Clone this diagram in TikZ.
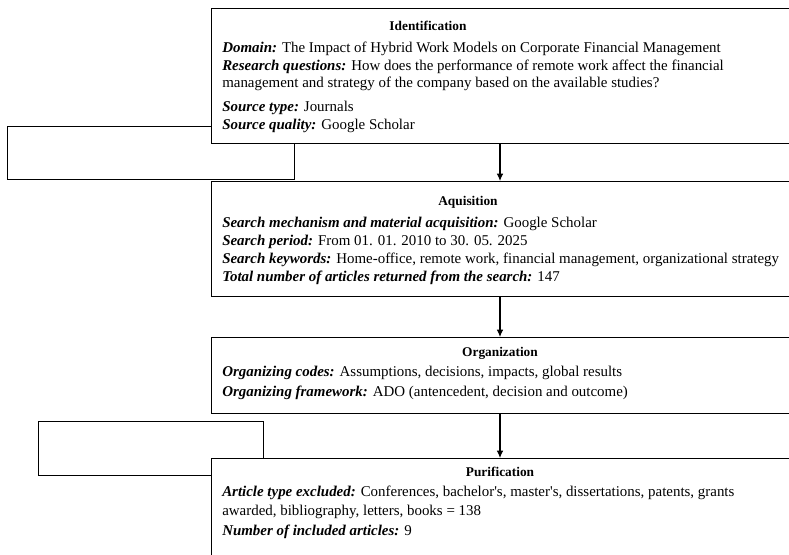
\documentclass[tikz,border=0pt]{standalone}
\usepackage{fontspec}
\setmainfont{Liberation Serif}
\usetikzlibrary{arrows.meta}
\tikzset{
  stagebox/.style={draw, line width=0.8pt, fill=white, inner sep=0pt, anchor=north west},
  sidebox/.style={draw, line width=0.8pt, inner sep=0pt, anchor=north west},
  heading/.style={font=\bfseries, anchor=base, inner sep=0pt},
  entry/.style={anchor=base west, inner sep=0pt},
  flow/.style={-{Latex[length=5.5pt,width=5pt]}, line width=0.8pt},
}
\newcommand{\lbl}[1]{\textbf{\textit{#1}}}
\begin{document}
\begin{tikzpicture}[x=0.75pt, y=-0.75pt, font=\fontsize{11.2}{13.4}\selectfont]
                \useasboundingbox (0,0) rectangle (789,555);
                \clip (0,0) rectangle (789,555);
                % side boxes (behind the stages)
                \node [sidebox, minimum width=215.25pt, minimum height=39.75pt] (sideA) at (7,126) {};
                \node [sidebox, minimum width=168.75pt, minimum height=40.5pt] (sideB) at (38,421) {};
                % stages
                \node [stagebox, minimum width=438pt, minimum height=101.25pt] (ident) at (211,8) {};
                \node [stagebox, minimum width=438pt, minimum height=86.25pt] (aquis) at (211,181) {};
                \node [stagebox, minimum width=438pt, minimum height=57pt] (organ) at (211,337) {};
                \node [stagebox, minimum width=438pt, minimum height=84pt] (purif) at (211,458) {};
                % arrows
                \coordinate (spine) at (500,0);
                \draw [flow] (ident.south -| spine) -- (aquis.north -| spine);
                \draw [flow] (aquis.south -| spine) -- (organ.north -| spine);
                \draw [flow] (organ.south -| spine) -- (purif.north -| spine);
                % identification
                \node [heading] (identT) at (428,31) {Identification};
                \node [entry] (identA) at (222,53) {\lbl{Domain:} The Impact of Hybrid Work Models on Corporate Financial Management};
                \node [entry] (identB) at (222,71) {\lbl{Research questions:} How does the performance of remote work affect the financial};
                \node [entry] (identC) at (222,88) {management and strategy of the company based on the available studies?};
                \node [entry] (identD) at (222,112) {\lbl{Source type:} Journals};
                \node [entry] (identE) at (222,130) {\lbl{Source quality:} Google Scholar};
                % aquisition
                \node [heading] (aquisT) at (468,206) {Aquisition};
                \node [entry] (aquisA) at (222,228) {\lbl{Search mechanism and material acquisition:} Google Scholar};
                \node [entry] (aquisB) at (222,246) {\lbl{Search period:} From 01. 01. 2010 to 30. 05. 2025};
                \node [entry] (aquisC) at (222,264) {\lbl{Search keywords:} Home-office, remote work, financial management, organizational strategy};
                \node [entry] (aquisD) at (222,282) {\lbl{Total number of articles returned from the search:} 147};
                % organization
                \node [heading] (organT) at (500,357) {Organization};
                \node [entry] (organA) at (222,377) {\lbl{Organizing codes:} Assumptions, decisions, impacts, global results};
                \node [entry] (organB) at (222,397) {\lbl{Organizing framework:} ADO (antencedent, decision and outcome)};
                % purification
                \node [heading] (purifT) at (500,477) {Purification};
                \node [entry] (purifA) at (222,497) {\lbl{Article type excluded:} Conferences, bachelor\textquotesingle s, master\textquotesingle s, dissertations, patents, grants};
                \node [entry] (purifB) at (222,516) {awarded, bibliography, letters, books = 138};
                \node [entry] (purifC) at (222,536) {\lbl{Number of included articles:} 9};
            \end{tikzpicture}
\end{document}
